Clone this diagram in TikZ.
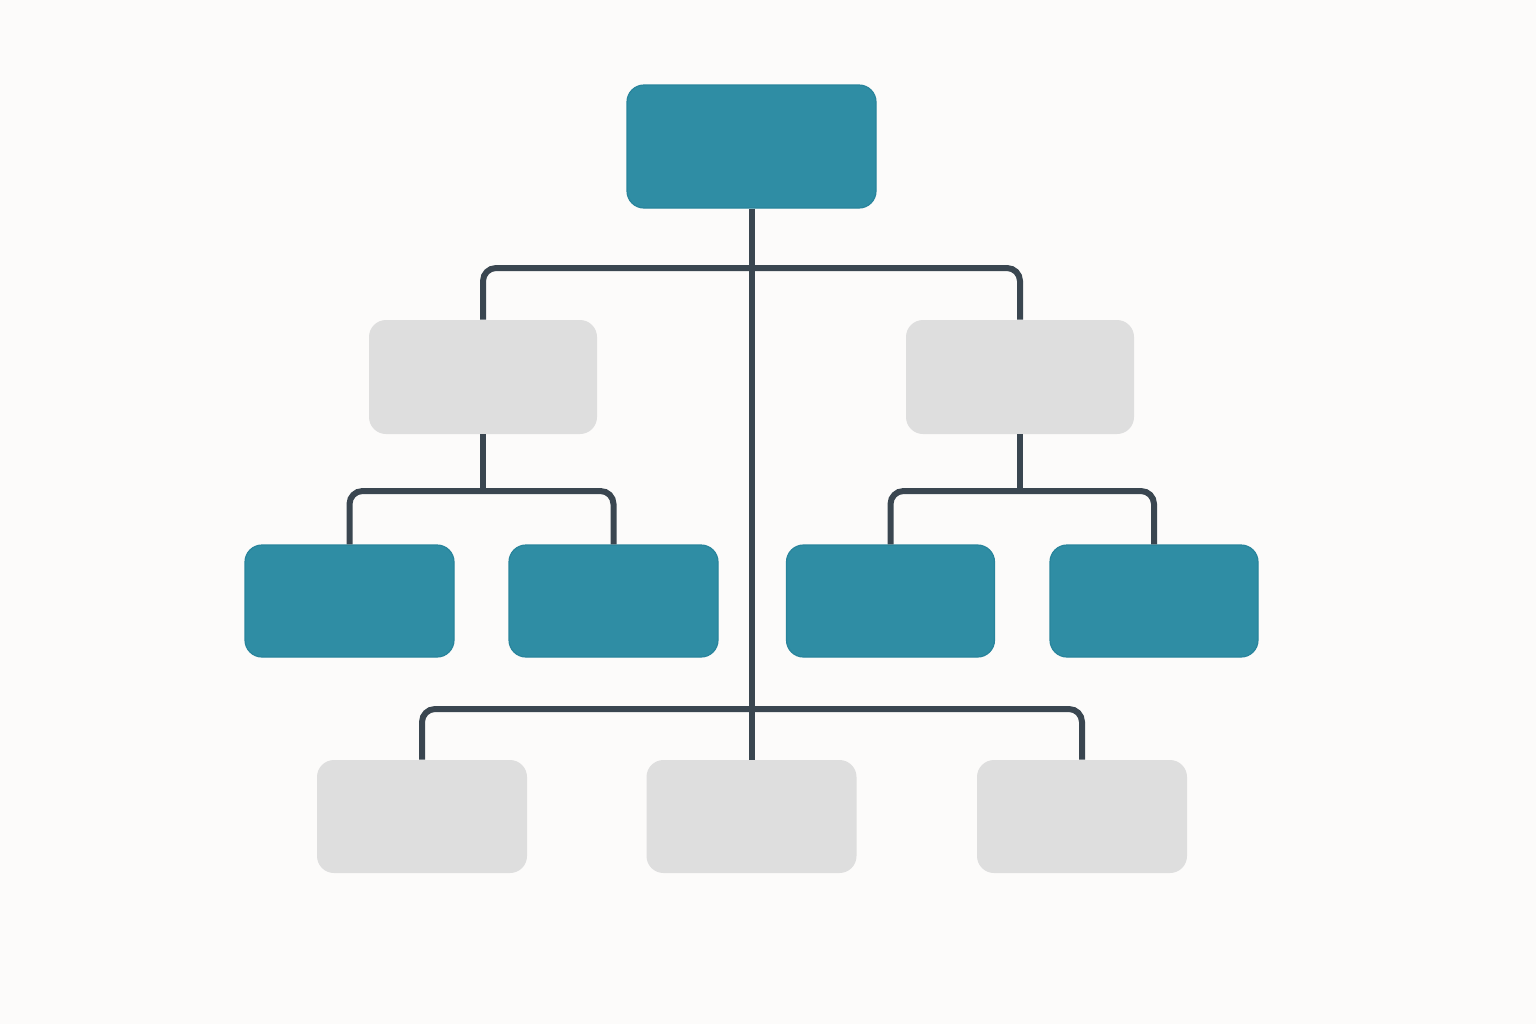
\documentclass[tikz,border=0pt]{standalone}
\usetikzlibrary{calc}
\definecolor{bg}{RGB}{252,251,250}
\definecolor{teal}{RGB}{47,141,164}
\definecolor{tealedge}{RGB}{40,132,156}
\definecolor{lgray}{RGB}{222,222,222}
\definecolor{wire}{RGB}{58,70,80}
\tikzset{
  tealbox/.style={draw=tealedge, line width=0.6pt, fill=teal, rounded corners=8.5pt, inner sep=0pt},
  graybox/.style={draw=none, fill=lgray, rounded corners=8.5pt, inner sep=0pt},
  wirestyle/.style={draw=wire, line width=3pt, rounded corners=6.5pt},
}
\begin{document}
\begin{tikzpicture}[x=0.5pt,y=-0.5pt]
\fill[bg] (0,0) rectangle (1536,1024);
\useasboundingbox (0,0) rectangle (1536,1024);
\coordinate (j1) at (751.5,268);
\coordinate (j2l) at (483,491);
\coordinate (j2r) at (1020,491);
\coordinate (j3) at (751.5,709);
% nodes
\node[tealbox, minimum width=124.5pt, minimum height=61.5pt] (top) at (751.5,146.5) {};
\node[graybox, minimum width=114pt, minimum height=57pt] (ml) at (483,377) {};
\node[graybox, minimum width=114pt, minimum height=57pt] (mr) at (1020,377) {};
\node[tealbox, minimum width=104.5pt, minimum height=56pt] (t1) at (349.5,601) {};
\node[tealbox, minimum width=104.5pt, minimum height=56pt] (t2) at (613.5,601) {};
\node[tealbox, minimum width=104pt, minimum height=56pt] (t3) at (890.5,601) {};
\node[tealbox, minimum width=104pt, minimum height=56pt] (t4) at (1154,601) {};
\node[graybox, minimum width=105pt, minimum height=56.5pt] (b1) at (422,816.5) {};
\node[graybox, minimum width=105pt, minimum height=56.5pt] (b2) at (751.5,816.5) {};
\node[graybox, minimum width=105pt, minimum height=56.5pt] (b3) at (1082,816.5) {};
% wires
\draw[wirestyle] (top.south) -- (b2.north);
\draw[wirestyle] (ml.north) |- (j1) -| (mr.north);
\draw[wirestyle] (ml.south) -- (j2l);
\draw[wirestyle] (t1.north) |- (j2l) -| (t2.north);
\draw[wirestyle] (mr.south) -- (j2r);
\draw[wirestyle] (t3.north) |- (j2r) -| (t4.north);
\draw[wirestyle] (b1.north) |- (j3) -| (b3.north);
\end{tikzpicture}
\end{document}
